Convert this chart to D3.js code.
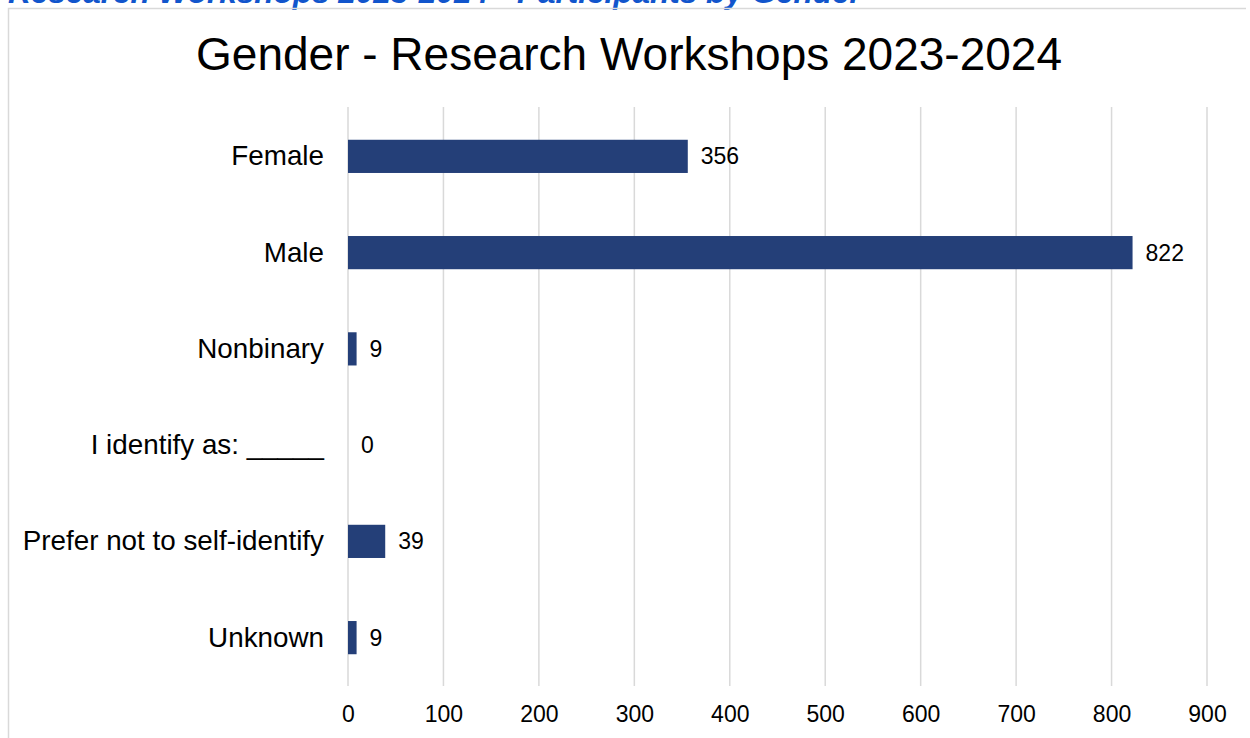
<!DOCTYPE html>
<html>
<head>
<meta charset="utf-8">
<script src="https://cdn.jsdelivr.net/npm/d3@7"></script>
<style>
  body { margin: 0; background: #fff; }
  svg { display: block; font-family: "Liberation Sans", Arial, sans-serif; }
</style>
</head>
<body>
<svg id="chart" width="1250" height="738"></svg>
<script>
// data
var categories = ["Female", "Male", "Nonbinary", "I identify as: _____", "Prefer not to self-identify", "Unknown"];
var counts = [356, 822, 9, 0, 39, 9];
var xTicks = [0, 100, 200, 300, 400, 500, 600, 700, 800, 900];

var svg = d3.select("#chart");

// heading above the chart, clipped by the top of the page
svg.append("text")
    .attr("x", 8).attr("y", 3)
    .attr("fill", "#1155cc")
    .attr("font-size", "31.5px")
    .attr("font-weight", "bold")
    .attr("font-style", "italic")
    .text("Research Workshops 2023-2024 - Participants by Gender");

// chart frame
svg.append("path")
    .attr("d", "M8.5,738 V8.5 H1246")
    .attr("fill", "none")
    .attr("stroke", "#d9d9d9")
    .attr("stroke-width", 1.5);

svg.append("text")
    .attr("x", 629).attr("y", 70)
    .attr("text-anchor", "middle")
    .attr("font-size", "46px")
    .attr("fill", "#000")
    .text("Gender - Research Workshops 2023-2024");

var x = d3.scaleLinear().domain([0, 900]).range([348, 1207]);
var y = d3.scaleBand().domain(categories).range([108, 686]).paddingInner(0.655).paddingOuter(0.33);

// gridlines
svg.append("g").selectAll("line")
    .data(xTicks)
    .enter().append("line")
    .attr("x1", function(d) { return x(d); })
    .attr("x2", function(d) { return x(d); })
    .attr("y1", 107).attr("y2", 686)
    .attr("stroke", "#d9d9d9")
    .attr("stroke-width", 1.5);

// x axis labels
var xAxis = svg.append("g")
    .attr("transform", "translate(0,686)")
    .call(d3.axisBottom(x).tickValues(xTicks).tickSize(0).tickPadding(20));
xAxis.select(".domain").remove();
xAxis.selectAll("text")
    .attr("font-size", "23px")
    .attr("fill", "#000")
    .attr("font-family", "Liberation Sans, Arial, sans-serif");

// y axis labels
var yAxis = svg.append("g")
    .attr("transform", "translate(348,0)")
    .call(d3.axisLeft(y).tickSize(0).tickPadding(24));
yAxis.select(".domain").remove();
yAxis.selectAll("text")
    .attr("font-size", "27.8px")
    .attr("fill", "#000")
    .attr("font-family", "Liberation Sans, Arial, sans-serif");

// bars
svg.append("g").selectAll("rect")
    .data(counts)
    .enter().append("rect")
    .attr("x", x(0))
    .attr("y", function(d, i) { return y(categories[i]); })
    .attr("width", function(d) { return x(d) - x(0); })
    .attr("height", y.bandwidth())
    .attr("fill", "#243f78");

// value labels
svg.append("g").selectAll("text")
    .data(counts)
    .enter().append("text")
    .attr("x", function(d) { return x(d) + 13; })
    .attr("y", function(d, i) { return y(categories[i]) + y.bandwidth() / 2; })
    .attr("dy", "0.35em")
    .attr("font-size", "23px")
    .attr("fill", "#000")
    .text(function(d) { return d; });
</script>
</body>
</html>
